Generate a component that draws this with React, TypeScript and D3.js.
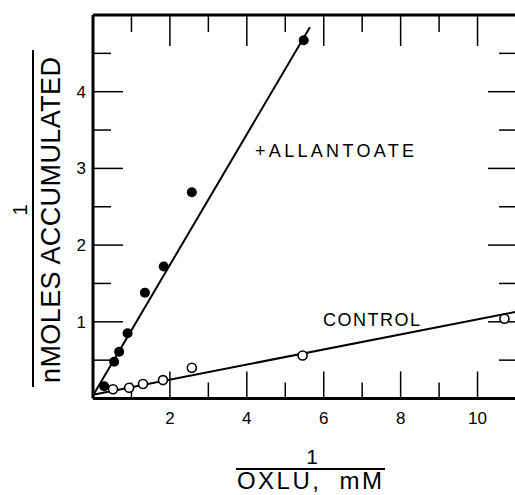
import React from 'react';
import * as d3 from 'd3';

// values
const allantoateX = [0.29, 0.55, 0.68, 0.9, 1.35, 1.84, 2.57, 5.48];
const allantoateY = [0.16, 0.48, 0.61, 0.85, 1.38, 1.72, 2.69, 4.67];
const controlX = [0.52, 0.94, 1.3, 1.82, 2.57, 5.45, 10.7];
const controlY = [0.12, 0.14, 0.19, 0.24, 0.4, 0.56, 1.04];

// fitted lines (end points)
const allantoateFitX = [0, 5.64];
const allantoateFitY = [0.04, 4.84];
const controlFitX = [0, 11];
const controlFitY = [0.05, 1.13];

const xTickLabels = [2, 4, 6, 8, 10];
const yTickLabels = [1, 2, 3, 4];

const font = '"Liberation Sans", Arial, sans-serif';

export default function App() {
  const width = 515;
  const height = 495;
  const margin = { top: 15, left: 93 };

  const x = d3.scaleLinear().domain([0, 11]).range([margin.left, 516]);
  const y = d3.scaleLinear().domain([0, 5]).range([398.5, margin.top]);

  const line = d3.line<[number, number]>()
    .x(d => x(d[0]))
    .y(d => y(d[1]));

  const allFit = line(allantoateFitX.map((v, i) => [v, allantoateFitY[i]]));
  const ctlFit = line(controlFitX.map((v, i) => [v, controlFitY[i]]));

  const xTicks = d3.range(1, 11);
  const yTicks = d3.range(0.5, 5, 0.5);

  return (
    <svg width={width} height={height} style={{ position: 'absolute', left: 0, top: 0, background: '#fff' }}>
      {/* frame */}
      <g stroke="#000" strokeWidth={3} fill="none">
        <line x1={x(0)} x2={x(11)} y1={y(5)} y2={y(5)} />
        <line x1={x(0)} x2={x(0)} y1={y(5)} y2={y(0)} />
        <line x1={x(0)} x2={x(11)} y1={y(0)} y2={y(0)} />
      </g>

      {/* x ticks, bottom and top; y ticks, left and right */}
      <g stroke="#000" strokeWidth={1.5}>
        {xTicks.map(t => {
          const major = t % 2 === 0;
          return (
            <g key={'xt' + t}>
              <line x1={x(t)} x2={x(t)} y1={y(0)} y2={y(0) - (major ? 27 : 16)} />
              <line x1={x(t)} x2={x(t)} y1={y(5)} y2={y(5) + (major ? 31 : 17)} />
            </g>
          );
        })}
        {yTicks.map(t => {
          const major = Number.isInteger(t);
          return (
            <g key={'yt' + t}>
              <line x1={x(0)} x2={x(0) + (major ? 30 : 18)} y1={y(t)} y2={y(t)} />
              <line x1={515} x2={515 - (major ? 27 : 16)} y1={y(t)} y2={y(t)} />
            </g>
          );
        })}
      </g>

      {/* tick labels */}
      <g fontFamily={font} fontSize={17} fill="#000">
        {xTickLabels.map(t => (
          <text key={'xl' + t} x={x(t)} y={424} textAnchor="middle">{t}</text>
        ))}
        {yTickLabels.map(t => (
          <text key={'yl' + t} x={86} y={y(t) + 6} textAnchor="end">{t}</text>
        ))}
      </g>

      {/* fitted lines */}
      <path d={allFit ?? ''} stroke="#000" strokeWidth={2} fill="none" />
      <path d={ctlFit ?? ''} stroke="#000" strokeWidth={2} fill="none" />

      {/* points */}
      {allantoateX.map((v, i) => (
        <circle key={'a' + i} cx={x(v)} cy={y(allantoateY[i])} r={5} fill="#000" />
      ))}
      {controlX.map((v, i) => (
        <circle key={'c' + i} cx={x(v)} cy={y(controlY[i])} r={4.5} fill="#fff" stroke="#000" strokeWidth={1.6} />
      ))}

      {/* series labels */}
      <g fontFamily={font} fontSize={18} fill="#000">
        <text x={255} y={157} textLength={159} lengthAdjust="spacing">+ALLANTOATE</text>
        <text x={323} y={326} textLength={97} lengthAdjust="spacing">CONTROL</text>
      </g>

      {/* y axis title as fraction */}
      <g fontFamily={font} fill="#000">
        <text transform="translate(27,210) rotate(-90)" fontSize={20} textAnchor="middle">1</text>
        <line x1={33} x2={33} y1={50} y2={387} stroke="#000" strokeWidth={2} />
        <text transform="translate(60,220) rotate(-90)" fontSize={27} textAnchor="middle"
          textLength={326} lengthAdjust="spacing">nMOLES ACCUMULATED</text>
      </g>

      {/* x axis title as fraction */}
      <g fontFamily={font} fill="#000">
        <text x={312} y={464} fontSize={21} textAnchor="middle">1</text>
        <line x1={236} x2={385} y1={469} y2={469} stroke="#000" strokeWidth={2} />
        <text x={237} y={489} fontSize={24} textLength={145} lengthAdjust="spacing"
          style={{ whiteSpace: 'pre' }}>OXLU,  mM</text>
      </g>
    </svg>
  );
}
